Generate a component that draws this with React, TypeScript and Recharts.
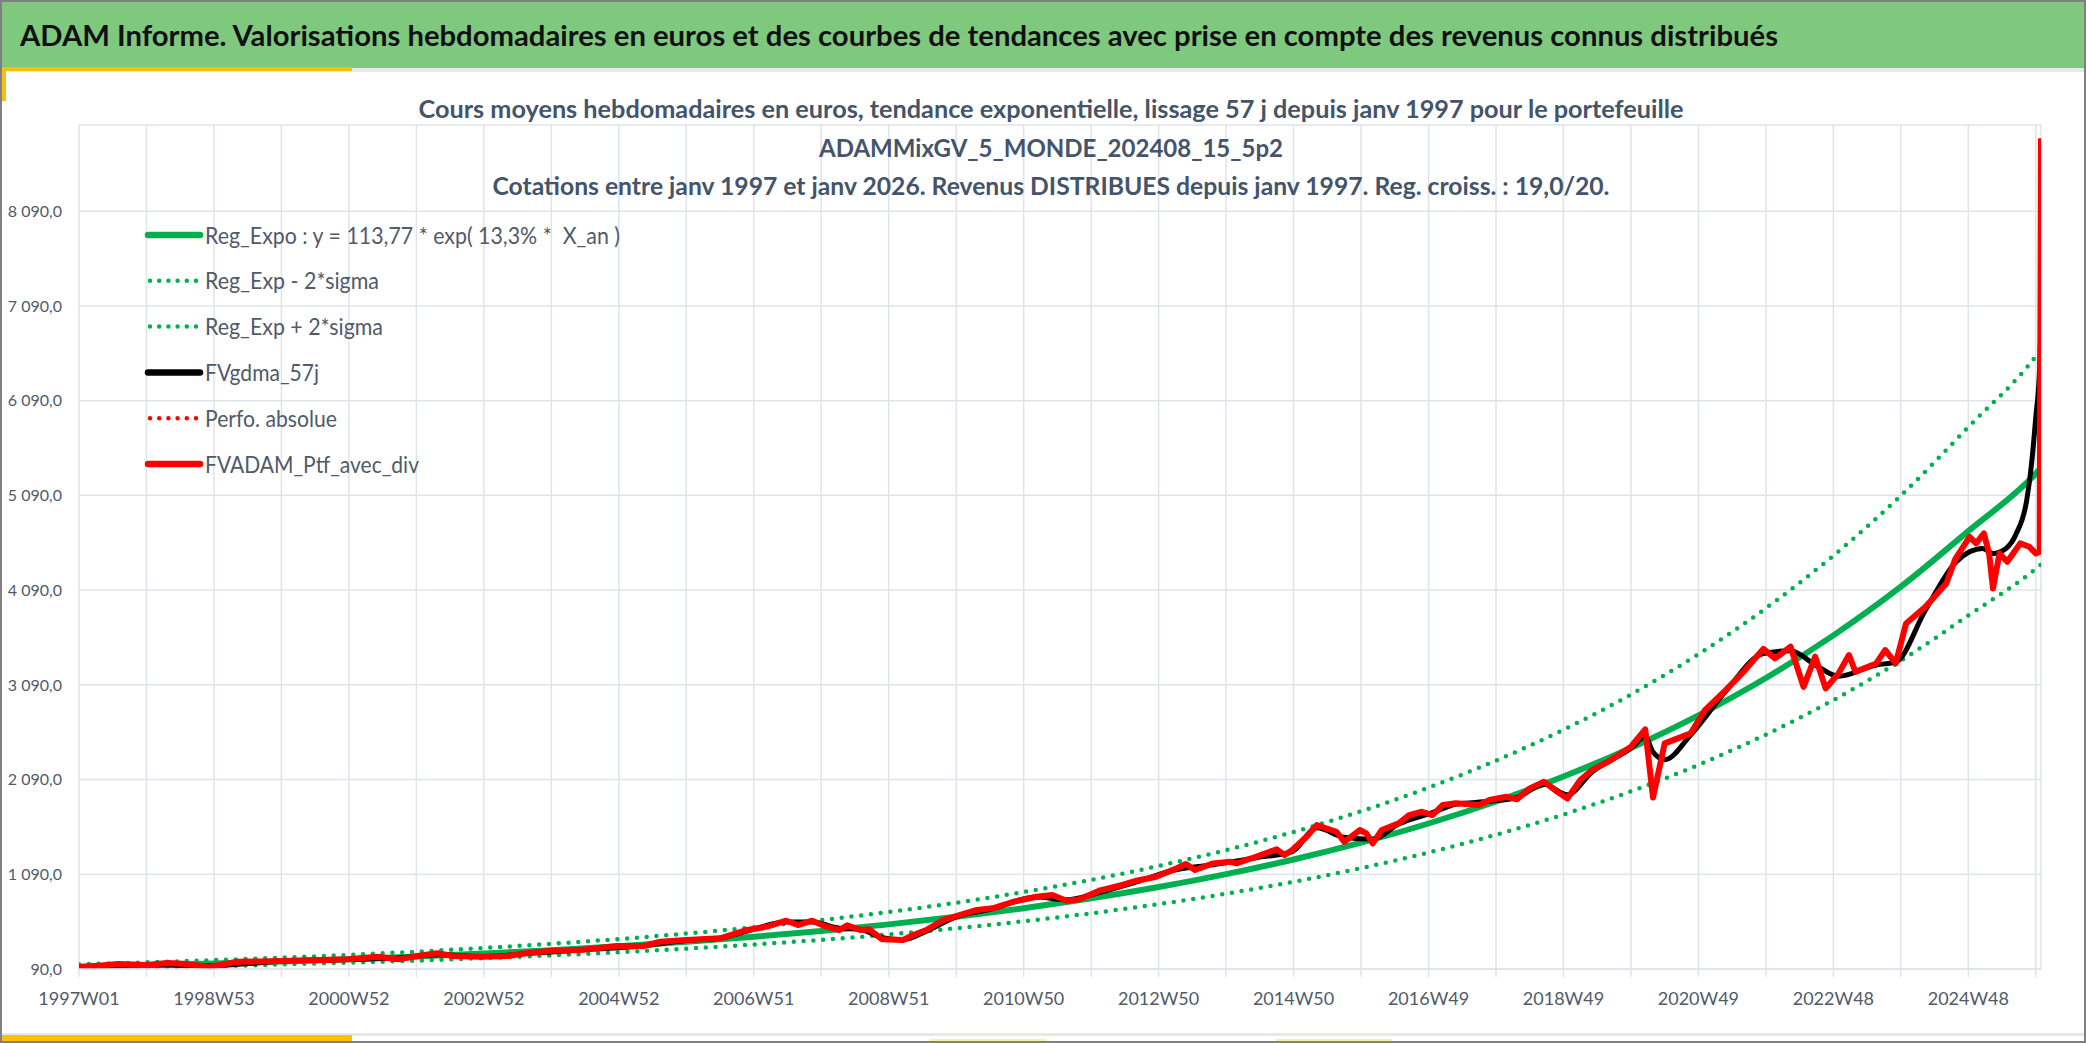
import { LineChart, Line, XAxis, YAxis, CartesianGrid } from "recharts";

// x = week index counted from 1997W01
const xTickLabels = [
  "1997W01", "1998W53", "2000W52", "2002W52", "2004W52", "2006W51", "2008W51", "2010W50",
  "2012W50", "2014W50", "2016W49", "2018W49", "2020W49", "2022W48", "2024W48",
];
const xTicks = Array.from({ length: 30 }, (_, i) => i * 52);
const yTicks = [90, 1090, 2090, 3090, 4090, 5090, 6090, 7090, 8090];

// trend curves, read at each yearly gridline + last week
const trendWeeks = [
  0, 52, 104, 156, 208, 260, 312, 364, 416, 468, 520, 572, 624, 676, 728, 780,
  832, 884, 936, 988, 1040, 1092, 1144, 1196, 1248, 1300, 1352, 1404, 1456, 1508, 1512,
];
const trendValues = [
  114, 130, 148, 170, 194, 221, 253, 289, 330, 377, 430, 491, 561, 641, 732, 836,
  955, 1091, 1246, 1424, 1626, 1858, 2122, 2424, 2768, 3162, 3612, 4126, 4713, 5320, 5380,
];
const trendHigh = [
  140, 160, 183, 209, 239, 273, 312, 356, 406, 464, 530, 606, 692, 790, 903, 1031,
  1178, 1345, 1537, 1755, 2005, 2290, 2616, 2988, 3413, 3899, 4454, 5087, 5811, 6560, 6634,
];
const trendLow = [
  92, 105, 120, 138, 157, 179, 205, 234, 267, 305, 349, 398, 455, 520, 594, 678,
  775, 885, 1011, 1155, 1319, 1507, 1721, 1966, 2245, 2565, 2929, 3346, 3822, 4315, 4360,
];

// FVADAM_Ptf_avec_div
const ptfWeeks = [
  0, 15, 30, 52, 68, 80, 101, 122, 140, 156, 186, 207, 230, 246, 262, 276, 288, 311, 330, 347,
  364, 386, 415, 435, 448, 468, 494, 515, 530, 545, 554, 565, 576, 586, 592, 602, 609, 619, 635, 643,
  653, 666, 676, 692, 704, 720, 738, 750, 761, 771, 787, 804, 815, 830, 846, 853, 860, 874, 887, 892,
  907, 923, 929, 935, 946, 954, 961, 969, 975, 987, 992, 997, 1004, 1017, 1025, 1035, 1043, 1051, 1061, 1079,
  1087, 1100, 1108, 1118, 1129, 1138, 1147, 1157, 1166, 1180, 1196, 1207, 1213, 1222, 1242, 1253, 1269, 1284, 1298, 1307,
  1319, 1329, 1338, 1346, 1356, 1364, 1369, 1385, 1392, 1400, 1408, 1423, 1439, 1446, 1457, 1462, 1468, 1472, 1475, 1480,
  1486, 1496, 1503, 1508, 1511, 1512,
];
const ptfValues = [
  111, 125, 143, 132, 153, 145, 114, 167, 170, 174, 185, 192, 220, 192, 230, 256, 227, 220, 227, 262,
  283, 290, 333, 333, 378, 396, 414, 502, 537, 600, 554, 600, 537, 502, 551, 502, 509, 403, 396, 449,
  502, 607, 649, 713, 731, 800, 853, 871, 811, 826, 920, 977, 1022, 1064, 1153, 1198, 1135, 1205, 1222, 1205,
  1275, 1353, 1293, 1346, 1486, 1610, 1575, 1539, 1433, 1557, 1522, 1416, 1557, 1627, 1715, 1750, 1715, 1821, 1839, 1821,
  1874, 1909, 1881, 1997, 2067, 1972, 1890, 2085, 2190, 2290, 2436, 2620, 1900, 2472, 2577, 2823, 3034, 3246, 3470, 3369,
  3492, 3069, 3387, 3052, 3211, 3404, 3228, 3316, 3457, 3316, 3738, 3914, 4160, 4420, 4652, 4583, 4688, 4477, 4107, 4477,
  4389, 4583, 4547, 4477, 4494, 8860,
];

// FVgdma_57j
const smoothWeeks = [
  0, 52, 101, 156, 207, 246, 276, 311, 347, 386, 435, 468, 494, 515, 545, 565, 586, 602, 619, 635,
  653, 676, 704, 738, 761, 787, 815, 846, 874, 907, 935, 954, 975, 997, 1017, 1043, 1061, 1087, 1108, 1129,
  1147, 1166, 1196, 1207, 1213, 1222, 1242, 1269, 1298, 1319, 1338, 1356, 1385, 1400, 1423, 1446, 1457, 1467, 1475, 1485,
  1493, 1501, 1505, 1508, 1511, 1512,
];
const smoothValues = [
  111, 135, 125, 172, 190, 205, 240, 222, 255, 290, 335, 392, 415, 490, 585, 585, 520, 510, 420, 400,
  490, 640, 725, 850, 820, 900, 1010, 1140, 1190, 1265, 1330, 1580, 1480, 1460, 1620, 1740, 1830, 1860, 1900, 2040,
  1930, 2170, 2420, 2540, 2380, 2300, 2560, 3020, 3420, 3450, 3300, 3180, 3300, 3330, 3880, 4380, 4494, 4530, 4477, 4530,
  4688, 5040, 5462, 5919, 6447, 6900,
];

const trendData = trendWeeks.map((x, i) => ({
  x,
  reg: trendValues[i],
  low: trendLow[i],
  high: trendHigh[i],
}));
const ptfData = ptfWeeks.map((x, i) => ({ x, ptf: ptfValues[i] }));
const smoothData = smoothWeeks.map((x, i) => ({ x, gdma: smoothValues[i] }));

const legendItems = [
  { name: "Reg_Expo : y = 113,77 * exp( 13,3% *  X_an )", color: "#00b050", dotted: false, len: 415 },
  { name: "Reg_Exp - 2*sigma", color: "#00b050", dotted: true, len: 174 },
  { name: "Reg_Exp + 2*sigma", color: "#00b050", dotted: true, len: 178 },
  { name: "FVgdma_57j", color: "#000000", dotted: false, len: 114 },
  { name: "Perfo. absolue", color: "#ff0000", dotted: true, len: 132 },
  { name: "FVADAM_Ptf_avec_div", color: "#ff0000", dotted: false, len: 214 },
];

const FONT = "Lato, 'Liberation Sans', sans-serif";
const GRID = "#dfe3ea";
const TXT = "#505a6a";

const fmt = (v: number) => {
  const [a, b] = v.toFixed(1).split(".");
  return a.replace(/\B(?=(\d{3})+(?!\d))/g, " ") + "," + b;
};

export default function App() {
  return (
    <div style={{ position: "absolute", left: 0, top: 0, width: 2086, height: 1043, background: "#fff" }}>
      <LineChart
        width={2086}
        height={1043}
        margin={{ top: 125, right: 45, bottom: 34, left: 9 }}
      >
        <CartesianGrid stroke={GRID} strokeWidth={1.5} />
        <XAxis
          dataKey="x"
          type="number"
          domain={[0, 1512]}
          allowDataOverflow
          ticks={xTicks}
          interval={0}
          height={40}
          tickSize={8}
          tickMargin={15}
          stroke={GRID}
          axisLine={{ stroke: GRID, strokeWidth: 1.5 }}
          tickLine={{ stroke: GRID, strokeWidth: 1.5 }}
          tick={{ fill: TXT, fontSize: 18, fontFamily: FONT }}
          tickFormatter={(v) => (v % 104 === 0 ? xTickLabels[v / 104] : "")}
        />
        <YAxis
          type="number"
          domain={[90, 9000]}
          allowDataOverflow
          ticks={yTicks}
          interval={0}
          width={70}
          axisLine={false}
          tickLine={false}
          tickSize={0}
          tickMargin={17}
          tick={{ fill: TXT, fontSize: 16, fontFamily: FONT }}
          tickFormatter={fmt}
        />
        <Line
          data={trendData}
          dataKey="reg"
          type="monotone"
          stroke="#00b050"
          strokeWidth={6}
          dot={false}
          activeDot={false}
          isAnimationActive={false}
        />
        <Line
          data={trendData}
          dataKey="low"
          type="monotone"
          stroke="#00b050"
          strokeWidth={4.5}
          strokeDasharray="0 9.8"
          strokeLinecap="round"
          dot={false}
          activeDot={false}
          isAnimationActive={false}
        />
        <Line
          data={trendData}
          dataKey="high"
          type="monotone"
          stroke="#00b050"
          strokeWidth={4.5}
          strokeDasharray="0 9.8"
          strokeLinecap="round"
          dot={false}
          activeDot={false}
          isAnimationActive={false}
        />
        <Line
          data={smoothData}
          dataKey="gdma"
          type="monotone"
          stroke="#000000"
          strokeWidth={5}
          dot={false}
          activeDot={false}
          isAnimationActive={false}
        />
        <Line
          data={ptfData}
          dataKey="ptf"
          type="linear"
          stroke="#ff0000"
          strokeWidth={6}
          strokeLinejoin="round"
          dot={false}
          activeDot={false}
          isAnimationActive={false}
        />
      </LineChart>

      <svg
        width={2086}
        height={1043}
        style={{ position: "absolute", left: 0, top: 0, pointerEvents: "none" }}
      >
        {/* header band */}
        <rect x={0} y={0} width={2086} height={68} fill="#7fc97f" />
        <rect x={0} y={68} width={2086} height={4} fill="#e8e8e8" />
        <rect x={0} y={67} width={352} height={4} fill="#f4c20d" />
        <rect x={1} y={67} width={5} height={34} fill="#f4c20d" />
        <text
          x={20}
          y={46}
          textLength={1758}
          lengthAdjust="spacingAndGlyphs"
          fontFamily={FONT}
          fontWeight="bold"
          fontSize={28}
          fill="#111"
        >
          ADAM Informe. Valorisations hebdomadaires en euros et des courbes de tendances avec prise en compte des revenus connus distribués
        </text>

        {/* chart titles */}
        <g fontFamily={FONT} fontWeight="bold" fontSize={25} fill="#44546a" textAnchor="middle">
          <text x={1051} y={118} textLength={1265} lengthAdjust="spacingAndGlyphs">
            Cours moyens hebdomadaires en euros, tendance exponentielle, lissage 57 j depuis janv 1997 pour le portefeuille
          </text>
          <text x={1051} y={157} textLength={464} lengthAdjust="spacingAndGlyphs">
            ADAMMixGV_5_MONDE_202408_15_5p2
          </text>
          <text x={1051} y={195} textLength={1117} lengthAdjust="spacingAndGlyphs">
            Cotations entre janv 1997 et janv 2026. Revenus DISTRIBUES depuis janv 1997. Reg. croiss. : 19,0/20.
          </text>
        </g>

        {/* legend */}
        {legendItems.map((it, i) => {
          const cy = 235 + i * 45.8;
          return (
            <g key={it.name}>
              <line
                x1={it.dotted ? 150 : 148}
                x2={200}
                y1={cy}
                y2={cy}
                stroke={it.color}
                strokeWidth={it.dotted ? 4.5 : 6.5}
                strokeDasharray={it.dotted ? "0 9.2" : undefined}
                strokeLinecap="round"
              />
              <text
                x={205}
                y={cy + 8.5}
                textLength={it.len}
                lengthAdjust="spacingAndGlyphs"
                fontFamily={FONT}
                fontSize={23}
                fill={TXT}
                style={{ whiteSpace: "pre" }}
              >
                {it.name}
              </text>
            </g>
          );
        })}

        {/* bottom accents */}
        <rect x={0} y={1033} width={2086} height={3} fill="#e8e8e8" />
        <rect x={0} y={1035} width={352} height={7} fill="#ffc000" />
        <rect x={930} y={1039} width={116} height={3} fill="#f8f29a" />
        <rect x={1276} y={1039} width={116} height={3} fill="#f8f29a" />
        <rect x={1} y={1} width={2084} height={1041} fill="none" stroke="#808080" strokeWidth={2} />
      </svg>
    </div>
  );
}
